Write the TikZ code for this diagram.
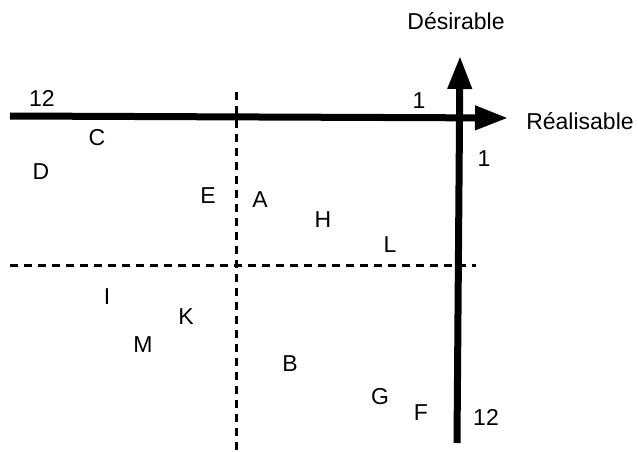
\documentclass[tikz,border=0pt]{standalone}
\usepackage{fontspec}
\setmainfont{Liberation Sans}
\usetikzlibrary{arrows.meta}
\begin{document}
\begin{tikzpicture}[x=1pt,y=-1pt,
  axis/.style={line width=7pt, -{Triangle[length=33pt,width=23pt]}},
  split/.style={line width=3pt, dash pattern=on 8pt off 6pt},
  lbl/.style={font=\fontsize{23}{27}\selectfont, inner sep=0pt}]
\useasboundingbox (0,0) rectangle (638,452);
% dashed quadrant separators
\coordinate (vtop) at (236,92);
\coordinate (vbot) at (236,452);
\coordinate (hleft) at (10,265);
\coordinate (hright) at (476,265);
\draw[split] (vtop) -- (vbot);
\draw[split] (hleft) -- (hright);
% axes
\coordinate (xstart) at (10,116);
\coordinate (xend) at (508,118);
\coordinate (ystart) at (457,443);
\coordinate (yend) at (460,56);
\draw[axis] (xstart) -- (xend);
\draw[axis] (ystart) -- (yend);
% axis titles and scale ends
\node[lbl] (des) at (456,21) {Désirable};
\node[lbl] (rea) at (580,121) {Réalisable};
\node[lbl] (x12) at (42,98) {12};
\node[lbl] (x1) at (419,101) {1};
\node[lbl] (y1) at (484,159) {1};
\node[lbl] (y12) at (486,417) {12};
% items
\node[lbl] (C) at (97,138) {C};
\node[lbl] (D) at (41,172) {D};
\node[lbl] (E) at (208,196) {E};
\node[lbl] (A) at (260,200) {A};
\node[lbl] (H) at (323,220) {H};
\node[lbl] (L) at (390,245) {L};
\node[lbl] (I) at (107,297) {I};
\node[lbl] (K) at (186,317) {K};
\node[lbl] (M) at (143,345) {M};
\node[lbl] (B) at (290,364) {B};
\node[lbl] (G) at (380,397) {G};
\node[lbl] (F) at (421,413) {F};
\end{tikzpicture}
\end{document}
